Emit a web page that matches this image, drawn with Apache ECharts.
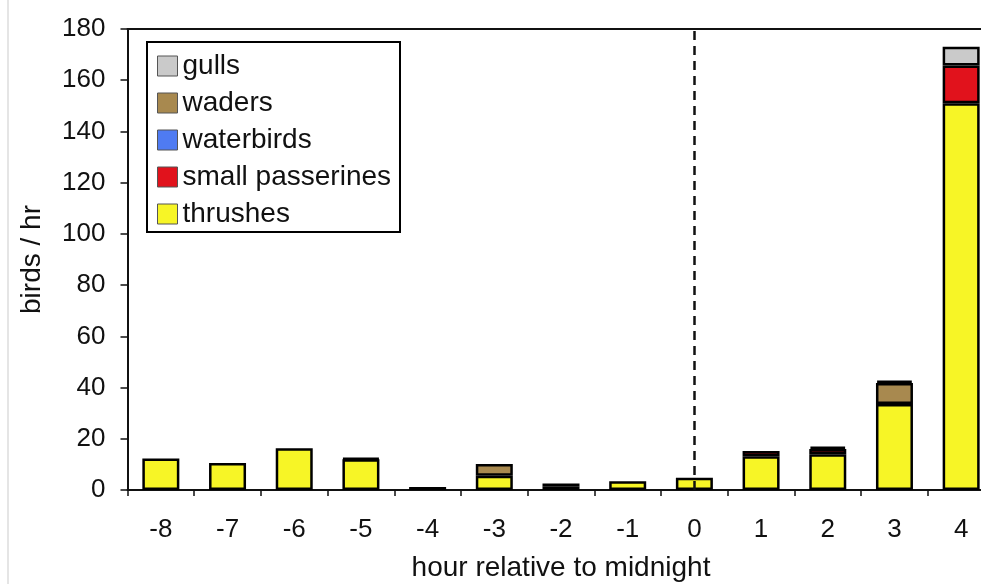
<!DOCTYPE html>
<html>
<head>
<meta charset="utf-8">
<script src="https://cdn.jsdelivr.net/npm/echarts@6/dist/echarts.min.js"></script>
<style>
html,body{margin:0;padding:0;background:#fff;overflow:hidden;width:981px;height:584px;}
#chart{width:1000px;height:584px;}
</style>
</head>
<body>
<div id="chart"></div>
<script>
const hours = ['-8','-7','-6','-5','-4','-3','-2','-1','0','1','2','3','4'];
const thrushes        = [12.3, 10.5, 16.3, 12, 1.2, 5.6, 1.5, 3.4, 4.8, 13.2, 14, 33.6, 151];
const smallPasserines = [0, 0, 0, 0.4, 0, 0, 0, 0, 0, 2, 2, 0, 14.7];
const waterbirds      = [0, 0, 0, 0, 0, 0, 0, 0, 0, 0, 0, 0, 0];
const waders          = [0, 0, 0, 0, 0, 4.6, 1, 0, 0, 0, 0.9, 8.2, 0];
const gulls           = [0, 0, 0, 0, 0, 0, 0, 0, 0, 0, 0, 0.9, 7.4];
const yTicks = {min: 0, max: 180, interval: 20};
const legendOrder = ['gulls', 'waders', 'waterbirds', 'small passerines', 'thrushes'];

const FONT = '"Liberation Sans", Arial, Helvetica, sans-serif';
const colors = {
  'thrushes': '#F7F526',
  'small passerines': '#E1121C',
  'waterbirds': '#4F7BF2',
  'waders': '#A8894F',
  'gulls': '#CACACA'
};
function mk(name, arr, extra) {
  const s = {
    name: name,
    type: 'bar',
    stack: 'all',
    barWidth: 37,
    data: arr.map(v => v === 0 ? '-' : v),
    itemStyle: {color: colors[name], borderColor: '#000', borderWidth: 2.5},
    emphasis: {disabled: true}
  };
  return Object.assign(s, extra || {});
}

const chart = echarts.init(document.getElementById('chart'));
chart.setOption({
  animation: false,
  textStyle: {fontFamily: FONT},
  grid: {left: 127.5, top: 29, width: 867, height: 461, containLabel: false, outerBoundsMode: 'none'},
  legend: {
    data: legendOrder,
    orient: 'vertical',
    left: 157, top: 52,
    padding: 0,
    itemWidth: 20, itemHeight: 20, itemGap: 9,
    icon: 'rect',
    itemStyle: {borderColor: '#555', borderWidth: 1},
    textStyle: {fontSize: 28, color: '#111', fontFamily: FONT},
    selectedMode: false
  },
  graphic: [
    {type: 'rect', z: 0, shape: {x: 147, y: 42, width: 253, height: 190},
     style: {fill: '#fff', stroke: '#000', lineWidth: 2}},
    {type: 'line', z: 0, shape: {x1: 8, y1: 0, x2: 8, y2: 584},
     style: {stroke: '#dcdcdc', lineWidth: 1.5}}
  ],
  xAxis: [{
    type: 'category',
    data: hours,
    position: 'bottom',
    name: 'hour relative to midnight',
    nameLocation: 'middle',
    nameGap: 64,
    nameTextStyle: {fontSize: 28, color: '#111', fontFamily: FONT},
    axisLine: {lineStyle: {color: '#111', width: 2}},
    axisTick: {show: true, length: 6, lineStyle: {color: '#111', width: 1.5}},
    axisLabel: {fontSize: 26, color: '#111', margin: 27, fontFamily: FONT},
    splitLine: {show: false}
  }, {
    type: 'category',
    data: hours,
    position: 'top',
    axisLine: {lineStyle: {color: '#111', width: 2}},
    axisTick: {show: false},
    axisLabel: {show: false},
    splitLine: {show: false}
  }],
  yAxis: {
    type: 'value',
    min: yTicks.min, max: yTicks.max, interval: yTicks.interval,
    name: 'birds / hr',
    nameLocation: 'middle',
    nameGap: 81,
    nameRotate: 90,
    nameTextStyle: {fontSize: 28, color: '#111', fontFamily: FONT},
    axisLine: {show: true, lineStyle: {color: '#111', width: 2}},
    axisTick: {show: true, length: 7, lineStyle: {color: '#111', width: 1.5}},
    axisLabel: {fontSize: 26, color: '#111', margin: 22, fontFamily: FONT},
    splitLine: {show: false}
  },
  series: [
    mk('thrushes', thrushes, {
      markLine: {
        silent: true,
        symbol: ['none', 'none'],
        label: {show: false},
        lineStyle: {color: '#111', type: [9, 6], width: 2.5},
        data: [{xAxis: '0'}]
      }
    }),
    mk('small passerines', smallPasserines),
    mk('waterbirds', waterbirds),
    mk('waders', waders),
    mk('gulls', gulls)
  ]
});
</script>
</body>
</html>
